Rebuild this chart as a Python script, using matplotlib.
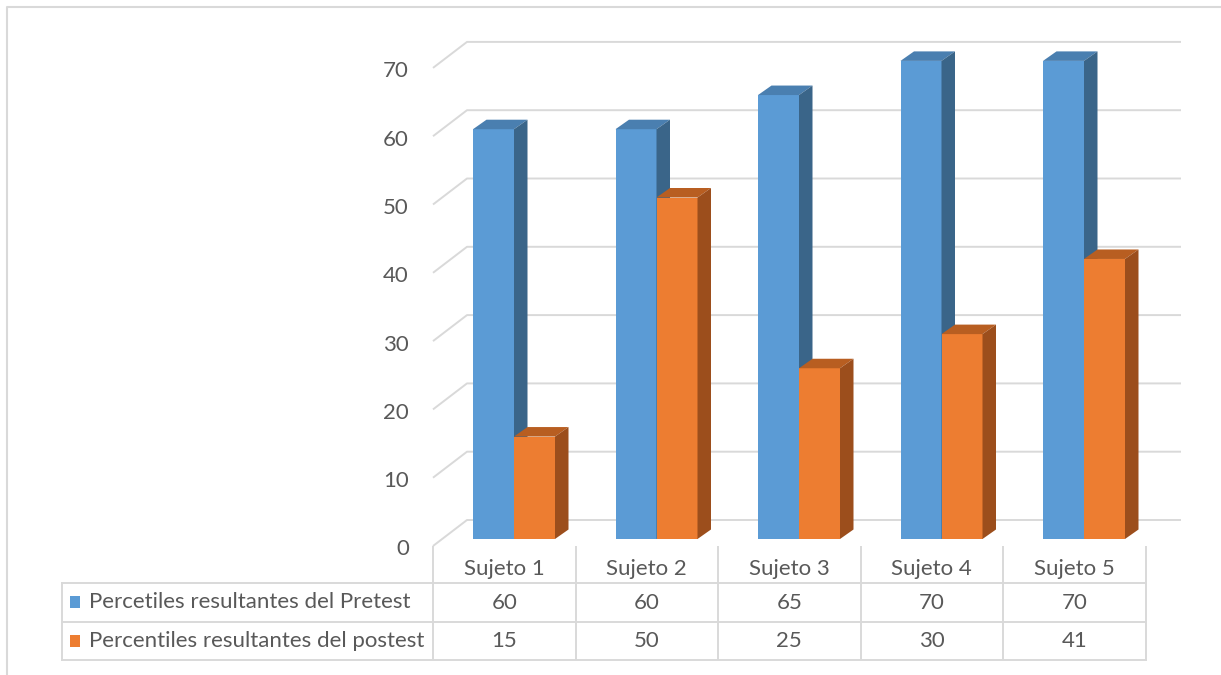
import matplotlib.pyplot as plt
from matplotlib.patches import Polygon, Rectangle
from matplotlib.transforms import blended_transform_factory

categorias = ['Sujeto 1', 'Sujeto 2', 'Sujeto 3', 'Sujeto 4', 'Sujeto 5']
series = ['Percetiles resultantes del Pretest', 'Percentiles resultantes del postest']
pretest = [60, 60, 65, 70, 70]
postest = [15, 50, 25, 30, 41]
yticks = [0, 10, 20, 30, 40, 50, 60, 70]

plt.rcParams['font.family'] = ['Lato', 'DejaVu Sans']
TXT = '#595959'
GRID = '#d9d9d9'
FS = 16
# front, top, side colours for each series
colores = [('#5b9bd5', '#4a7fb0', '#3a6589'),
           ('#ed7d31', '#b85e21', '#9c4e1c')]

W, H = 1221, 675
fig = plt.figure(figsize=(W / 100, H / 100), dpi=100)

# pixel-space overlay for the frame and the data table
bg = fig.add_axes([0, 0, 1, 1])
bg.set_xlim(0, W)
bg.set_ylim(H, 0)
bg.axis('off')

# plot area (front plane: x from 433 px, value 0 at 546 px)
cat_px, unit_px = 142.5, 6.83
ax = fig.add_axes([433 / W, (H - 546) / H, (1190 - 433) / W, (546 - 30) / H])
ax.set_xlim(0, 757 / cat_px)
ax.set_ylim(0, 516 / unit_px)
ax.axis('off')

DX, DY = 34 / cat_px, 26 / unit_px        # wall depth
BX, BY = 9.75 / cat_px, 7 / unit_px       # bars sit a bit behind the front
SX, SY = 13.5 / cat_px, 9.5 / unit_px     # bar depth
bw = 41 / cat_px
x_back = 748 / cat_px

# walls / gridlines
for v in yticks:
    ax.plot([0, DX, x_back], [v, v + DY, v + DY], color=GRID, lw=1.4,
            zorder=1, clip_on=False, solid_capstyle='butt')
    ax.text(-24 / cat_px, v - 0.5, str(v), ha='right', va='center',
            fontsize=FS, color=TXT, clip_on=False)

# 3D-looking bars
for i in range(len(categorias)):
    for s, vals in enumerate([pretest, postest]):
        h = vals[i]
        x0 = i + 0.5 + BX - bw + s * bw
        x1 = x0 + bw
        front, top, side = colores[s]
        ax.add_patch(Rectangle((x0, BY), bw, h, facecolor=front, lw=0, zorder=3 + s))
        ax.add_patch(Polygon([(x0, BY + h), (x1, BY + h), (x1 + SX, BY + h + SY),
                              (x0 + SX, BY + h + SY)], closed=True,
                             facecolor=top, lw=0, zorder=3 + s))
        ax.add_patch(Polygon([(x1, BY), (x1 + SX, BY + SY), (x1 + SX, BY + h + SY),
                              (x1, BY + h)], closed=True,
                             facecolor=side, lw=0, zorder=3 + s))

# outer chart frame (left and top edges)
bg.plot([6.5, 6.5, W], [H, 6.5, 6.5], color=GRID, lw=1.5)

# data table
tr = blended_transform_factory(ax.transData, bg.transData)
n = len(categorias)
for k in range(n + 1):
    bg.plot([k, k], [546, 660], color=GRID, lw=1.4, transform=tr,
            solid_capstyle='butt')
bg.plot([62, 62], [583, 660], color=GRID, lw=1.4)
x_end = bg.transData.inverted().transform(ax.transData.transform((n, 0)))[0]
for yy in [583, 622, 660]:
    bg.plot([62, x_end], [yy, yy], color=GRID, lw=1.4)

for i, c in enumerate(categorias):
    bg.text(i + 0.5, 569, c, ha='center', va='center', fontsize=FS,
            color=TXT, transform=tr)
    bg.text(i + 0.5, 603, str(pretest[i]), ha='center', va='center',
            fontsize=FS, color=TXT, transform=tr)
    bg.text(i + 0.5, 641, str(postest[i]), ha='center', va='center',
            fontsize=FS, color=TXT, transform=tr)

for s, (name, yy) in enumerate(zip(series, [602, 641])):
    bg.add_patch(Rectangle((70, yy - 6), 10, 12, facecolor=colores[s][0], lw=0))
    bg.text(89, yy, name, ha='left', va='center', fontsize=FS, color=TXT)

fig.savefig('out.png', dpi=100)
